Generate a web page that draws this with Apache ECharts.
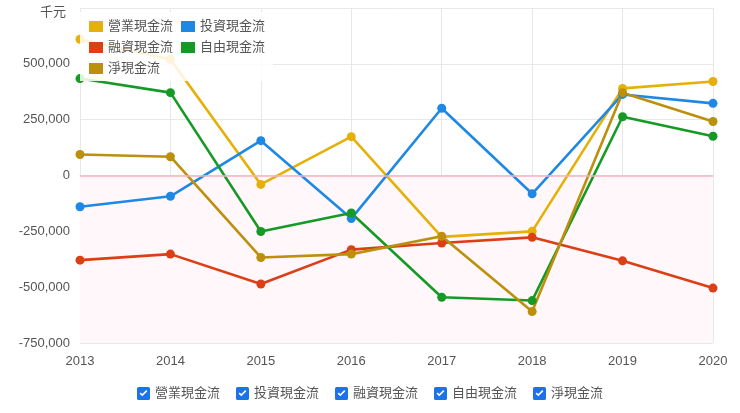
<!DOCTYPE html>
<html>
<head>
<meta charset="utf-8">
<script src="https://cdn.jsdelivr.net/npm/echarts@6/dist/echarts.min.js"></script>
<style>
  html, body { margin: 0; padding: 0; background: #fff; }
  #chart { width: 740px; height: 413px; }
</style>
</head>
<body>
<div id="chart"></div>
<script>
// 年度
var years = ['2013', '2014', '2015', '2016', '2017', '2018', '2019', '2020'];
// 各項現金流 (千元)
var names = ['營業現金流', '投資現金流', '融資現金流', '自由現金流', '淨現金流'];
var operating = [610000, 520000, -40000, 174000, -275000, -250000, 390000, 421000];
var investing = [-140000, -93000, 156000, -193000, 301000, -82000, 363000, 323000];
var financing = [-379000, -352000, -486000, -332000, -302000, -277000, -382000, -504000];
var freeCash = [434000, 371000, -251000, -168000, -545000, -560000, 263000, 176000];
var netCash = [94000, 84000, -367000, -352000, -272000, -609000, 371000, 242000];
// 顏色
var colors = ['#e6b00a', '#1e88e5', '#dc3e16', '#169a26', '#bc8f0c'];

// 勾選框圖示
var checkIcon = 'path://M2,0H14Q16,0,16,2V14Q16,16,14,16H2Q0,16,0,14V2Q0,0,2,0Z' +
    'M3.2,8.2L6.5,11.5L12.8,5.2L11.4,3.8L6.5,8.7L4.6,6.8Z';

function makeLine(name, data, idx){
    var s = {
        name: name,
        type: 'line',
        data: data,
        symbol: 'circle',
        symbolSize: 9,
        lineStyle: { width: 2.6 },
        itemStyle: { color: colors[idx] },
        emphasis: { disabled: true }
    };
    return s;
}

var series = [
    makeLine(names[0], operating, 0),
    makeLine(names[1], investing, 1),
    makeLine(names[2], financing, 2),
    makeLine(names[3], freeCash, 3),
    makeLine(names[4], netCash, 4)
];
// 負值區塊 + 零軸
series[0].markArea = {
    silent: true,
    itemStyle: { color: '#fff7f9' },
    data: [[{ yAxis: 0 }, { yAxis: -750000 }]]
};
series[0].markLine = {
    silent: true,
    symbol: 'none',
    label: { show: false },
    lineStyle: { color: '#f2b3c0', type: 'solid', width: 1.5 },
    data: [{ yAxis: 0 }]
};

var myChart = echarts.init(document.getElementById('chart'));
var option = {
    animation: false,
    textStyle: { fontFamily: 'Arial, "Liberation Sans", "Noto Sans CJK TC", sans-serif' },
    grid: { left: 80, right: 27, top: 8, bottom: 70 },
    legend: [
        {
            data: names,
            left: 80,
            top: 12,
            width: 186,
            padding: [8, 8, 6, 9],
            backgroundColor: 'rgba(255,255,255,0.85)',
            icon: 'rect',
            itemWidth: 14,
            itemHeight: 11,
            itemGap: 8,
            textStyle: { fontSize: 13, color: '#555' },
            selectedMode: false
        },
        {
            data: names,
            left: 'center',
            top: 382,
            icon: checkIcon,
            itemWidth: 13,
            itemHeight: 13,
            itemGap: 16,
            itemStyle: { color: '#1a73e8' },
            textStyle: { fontSize: 13, color: '#555' }
        }
    ],
    xAxis: {
        type: 'category',
        data: years,
        boundaryGap: false,
        axisLine: { lineStyle: { color: '#dedede' } },
        axisTick: { show: false },
        axisLabel: { color: '#555', fontSize: 13, margin: 12 },
        splitLine: { show: true, lineStyle: { color: '#e8e8e8' } }
    },
    yAxis: {
        type: 'value',
        min: -750000,
        max: 750000,
        interval: 250000,
        axisLine: { show: false },
        axisTick: { show: false },
        axisLabel: {
            color: '#555',
            fontSize: 13,
            margin: 10,
            formatter: function(v){
                if (v === 750000) return '{u|千元}';
                return v.toLocaleString('en-US');
            },
            rich: { u: { fontSize: 13, color: '#555', padding: [8, 4, 0, 0] } }
        },
        splitLine: { lineStyle: { color: '#e8e8e8' } }
    },
    series: series
};
myChart.setOption(option);
</script>
</body>
</html>
